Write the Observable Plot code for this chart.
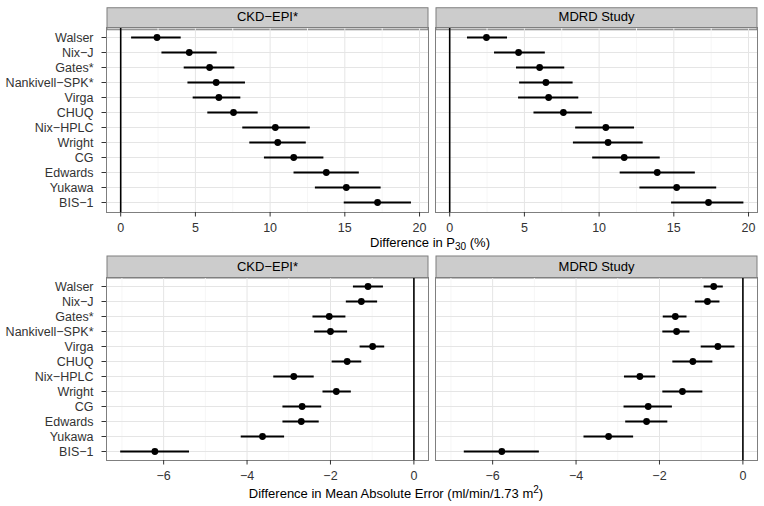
<!DOCTYPE html>
<html><head><meta charset="utf-8">
<script src="https://cdn.jsdelivr.net/npm/d3@7"></script>
<script src="https://cdn.jsdelivr.net/npm/@observablehq/plot@0.6"></script>
<style>
html,body{margin:0;padding:0;background:#fff;}
#chart{width:764px;}
#chart svg{display:block;}
</style></head><body><div id="chart"></div>
<script>
// Categories (top to bottom)
const methods = ["Walser","Nix−J","Gates*","Nankivell−SPK*","Virga","CHUQ","Nix−HPLC","Wright","CG","Edwards","Yukawa","BIS−1"];
const panels = ["CKD−EPI*", "MDRD Study"];

// Difference in P30 (%)
const p30CkdEst = [2.43, 4.59, 5.95, 6.39, 6.57, 7.55, 10.35, 10.51, 11.58, 13.76, 15.10, 17.19];
const p30CkdLo  = [0.73, 2.76, 4.25, 4.50, 4.85, 5.83, 8.17, 8.64, 9.62, 11.60, 13.03, 14.96];
const p30CkdHi  = [4.05, 6.46, 7.64, 8.35, 8.04, 9.20, 12.69, 12.42, 13.60, 15.97, 17.43, 19.46];
const p30MdrdEst = [2.46, 4.61, 6.02, 6.44, 6.62, 7.61, 10.45, 10.60, 11.68, 13.89, 15.19, 17.32];
const p30MdrdLo  = [1.19, 3.00, 4.47, 4.68, 4.61, 5.64, 8.43, 8.28, 9.57, 11.41, 12.73, 14.85];
const p30MdrdHi  = [3.87, 6.40, 7.70, 8.26, 8.64, 9.55, 12.37, 12.95, 14.09, 16.44, 17.87, 19.69];

// Difference in Mean Absolute Error
const maeCkdEst = [-1.10, -1.26, -2.03, -2.00, -0.99, -1.60, -2.88, -1.86, -2.68, -2.70, -3.63, -6.21];
const maeCkdLo  = [-1.45, -1.62, -2.42, -2.38, -1.29, -1.96, -3.36, -2.18, -3.14, -3.14, -4.14, -7.03];
const maeCkdHi  = [-0.73, -0.87, -1.63, -1.59, -0.70, -1.25, -2.39, -1.50, -2.21, -2.27, -3.10, -5.38];
const maeMdrdEst = [-0.70, -0.85, -1.62, -1.59, -0.60, -1.20, -2.47, -1.45, -2.27, -2.31, -3.22, -5.78];
const maeMdrdLo  = [-0.93, -1.14, -1.91, -1.92, -1.00, -1.68, -2.84, -1.92, -2.85, -2.81, -3.81, -6.68];
const maeMdrdHi  = [-0.47, -0.55, -1.34, -1.27, -0.19, -0.72, -2.09, -0.96, -1.69, -1.80, -2.62, -4.88];

// Axis ticks
const p30Domain = [-0.95, 20.6];
const p30Ticks = [0, 5, 10, 15, 20];
const p30Minor = [2.5, 7.5, 12.5, 17.5];
const maeDomain = [-7.37, 0.35];
const maeTicks = [-6, -4, -2, 0];
const maeMinor = [-7, -5, -3, -1];

function buildRows(estA, loA, hiA, estB, loB, hiB) {
  const rows = [];
  methods.forEach((m, i) => {
    rows.push({panel: panels[0], method: m, est: estA[i], lo: loA[i], hi: hiA[i]});
    rows.push({panel: panels[1], method: m, est: estB[i], lo: loB[i], hi: hiB[i]});
  });
  return rows;
}

const FONT = "'Liberation Sans', Arial, Helvetica, sans-serif";
const STRIP_H = 22;

function stripMark(xDomain, yPadding) {
  return Plot.text(panels, {
    fx: d => d, text: d => d, frameAnchor: "top", dy: -STRIP_H / 2, lineAnchor: "middle",
    fontSize: 13, fill: "black",
    render(index, scales, values, dimensions, context, next) {
      const g = next(index, scales, values, dimensions, context);
      const a = scales.x(xDomain[0]), b = scales.x(xDomain[1]);
      const y0 = scales.y(methods[0]), y1 = scales.y(methods[1]);
      const frameTop = y0 - yPadding * (y1 - y0);
      const r = document.createElementNS("http://www.w3.org/2000/svg", "rect");
      // the group is already shifted by dy (-STRIP_H/2)
      r.setAttribute("x", Math.min(a, b) + 0.5);
      r.setAttribute("y", frameTop - STRIP_H / 2 + 0.5);
      r.setAttribute("width", Math.abs(b - a) - 1);
      r.setAttribute("height", STRIP_H);
      r.setAttribute("fill", "#cccccc");
      r.setAttribute("stroke", "#7f7f7f");
      g.insertBefore(r, g.firstChild);
      return g;
    }
  });
}

function panelRow({rows, xDomain, xTicks, xMinor, yPadding, height, marginBottom}) {
  return Plot.plot({
    width: 764, height, marginTop: 27, marginBottom, marginLeft: 106, marginRight: 7,
    style: {fontFamily: FONT, fontSize: "12.5px", background: "white", overflow: "visible"},
    x: {domain: xDomain},
    y: {type: "point", domain: methods, padding: yPadding},
    fx: {domain: panels, paddingInner: 0.0213, paddingOuter: 0, axis: null},
    marks: [
      stripMark(xDomain, yPadding),
      Plot.ruleX(xMinor, {stroke: "#f6f6f6"}),
      Plot.ruleX(xTicks, {stroke: "#e5e5e5"}),
      Plot.ruleY(methods, {stroke: "#e5e5e5"}),
      Plot.ruleX([0], {stroke: "black", strokeWidth: 1.6}),
      Plot.ruleY(rows, {fx: "panel", y: "method", x1: "lo", x2: "hi", stroke: "black", strokeWidth: 2}),
      Plot.dot(rows, {fx: "panel", x: "est", y: "method", r: 3.4, fill: "black", stroke: "none"}),
      Plot.frame({stroke: "#7f7f7f"}),
      Plot.axisX(xTicks, {tickSize: 4.5, tickPadding: 6, stroke: "#333", fill: "#333", label: null, fontSize: 12.5}),
      Plot.axisY({tickSize: 4.5, tickPadding: 8.5, stroke: "#333", fill: "#333", label: null, fontSize: 12.5})
    ]
  });
}

const topChart = panelRow({
  rows: buildRows(p30CkdEst, p30CkdLo, p30CkdHi, p30MdrdEst, p30MdrdLo, p30MdrdHi),
  xDomain: p30Domain, xTicks: p30Ticks, xMinor: p30Minor, yPadding: 0.55, height: 250, marginBottom: 38
});
const t1 = d3.select(topChart).append("text")
  .attr("x", 430).attr("y", 246.5).attr("fill", "black").attr("text-anchor", "middle")
  .attr("font-family", FONT).attr("font-size", 13);
t1.append("tspan").text("Difference in P");
t1.append("tspan").attr("font-size", 10).attr("dy", 3).text("30");
t1.append("tspan").attr("dy", -3).text(" (%)");

const bottomChart = panelRow({
  rows: buildRows(maeCkdEst, maeCkdLo, maeCkdHi, maeMdrdEst, maeMdrdLo, maeMdrdHi),
  xDomain: maeDomain, xTicks: maeTicks, xMinor: maeMinor, yPadding: 0.6, height: 256, marginBottom: 46
});
const t2 = d3.select(bottomChart).append("text")
  .attr("x", 396).attr("y", 247.5).attr("fill", "black").attr("text-anchor", "middle")
  .attr("font-family", FONT).attr("font-size", 13);
t2.append("tspan").text("Difference in Mean Absolute Error (ml/min/1.73 m");
t2.append("tspan").attr("font-size", 10).attr("dy", -5).text("2");
t2.append("tspan").attr("dy", 5).text(")");

document.getElementById("chart").append(topChart, bottomChart);
</script></body></html>
